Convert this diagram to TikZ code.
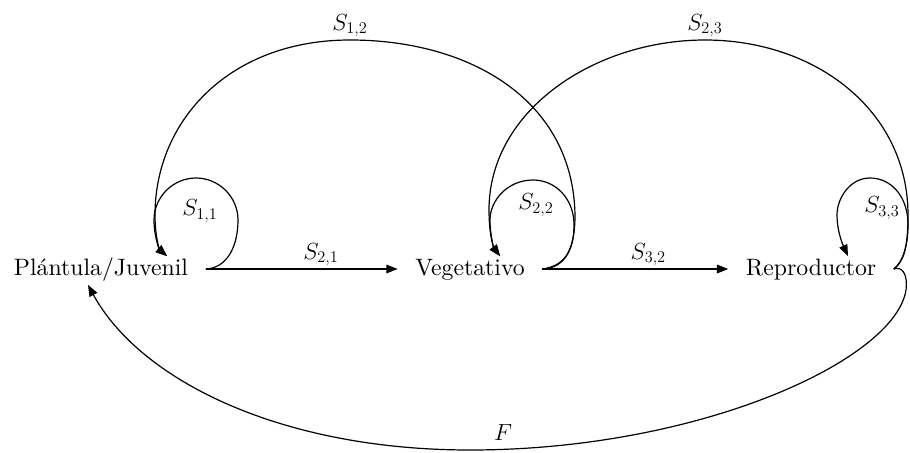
\RequirePackage{fix-cm}
\documentclass[tikz,border=0pt]{standalone}
\usepackage{amsmath}
\usepackage{fontspec}
\setmainfont{lmroman10-regular.otf}
\usetikzlibrary{arrows.meta,calc}

\begin{document}
\begin{tikzpicture}[
  x=0.75pt, y=-0.75pt,
  font=\fontsize{17.8}{21}\selectfont,
  stage/.style={inner xsep=13pt, inner ysep=2pt, text height=12pt,
    text depth=3pt, anchor=base},
  trans/.style={-{Triangle[length=8.5pt,width=6.5pt]}, line width=0.9pt},
  lbl/.style={font=\fontsize{17.5}{20}\selectfont, inner sep=2pt},
]
  \useasboundingbox (0,0) rectangle (910,453);

  \node[stage] (pj) at (101,275) {Plántula/Juvenil};
  \node[stage] (veg) at (470,275) {Vegetativo};
  \node[stage] (rep) at (811,275) {Reproductor};

  % forward transitions
  \draw[trans] (pj.east) -- (veg.west)
    node[lbl, above, pos=0.6] (s21) {$S_{2,1}$};
  \draw[trans] (veg.east) -- (rep.west)
    node[lbl, above, pos=0.57] (s32) {$S_{3,2}$};

  % stay loops
  \draw[trans] (pj.east) .. controls (228,268) and (238,245) .. (238,220)
    .. controls (238,197) and (219,178) .. (196,178)
    .. controls (173,178) and (154,197) .. (154,220)
    .. controls (154,238) and (160,250) .. ($(pj.north)+(66,0)$);
  \node[lbl] (s11) at (200,211) {$S_{1,1}$};

  \draw[trans] (veg.east) .. controls (565,266) and (574,250) .. (574,225)
    .. controls (574,198) and (555,180) .. (533,180)
    .. controls (508,180) and (490,200) .. (490,220)
    .. controls (490,236) and (494,248) .. ($(veg.north)+(30,0)$);
  \node[lbl] (s22) at (536,205) {$S_{2,2}$};

  \draw[trans] (rep.east) .. controls (903,262) and (908,245) .. (908,225)
    .. controls (908,195) and (890,178) .. (870,178)
    .. controls (850,178) and (837,198) .. (837,215)
    .. controls (837,230) and (842,243) .. ($(rep.north)+(37,0)$);
  \node[lbl] (s33) at (882,208) {$S_{3,3}$};

  % backward transitions
  \draw[trans] (veg.east) .. controls (566,268) and (575,248) .. (575,215)
    .. controls (573,100) and (470,40) .. (350,40) node[lbl, above] (s12) {$S_{1,2}$}
    .. controls (230,40) and (155,120) .. (155,215)
    .. controls (155,238) and (160,250) .. ($(pj.north)+(66,0)$);

  \draw[trans] (rep.east) .. controls (903,262) and (908,250) .. (908,215)
    .. controls (908,110) and (815,40) .. (705,40) node[lbl, above] (s23) {$S_{2,3}$}
    .. controls (595,40) and (489,110) .. (489,210)
    .. controls (489,236) and (494,248) .. ($(veg.north)+(30,0)$);

  % fecundity
  \draw[trans] (rep.east) .. controls (902,266) and (908,274) .. (906,290)
    .. controls (895,360) and (700,450) .. (470,450)
    .. controls (280,450) and (140,380) .. ($(pj.south)+(-13,3)$);
  \node[lbl] (f) at (503,433) {$F$};
\end{tikzpicture}
\end{document}
